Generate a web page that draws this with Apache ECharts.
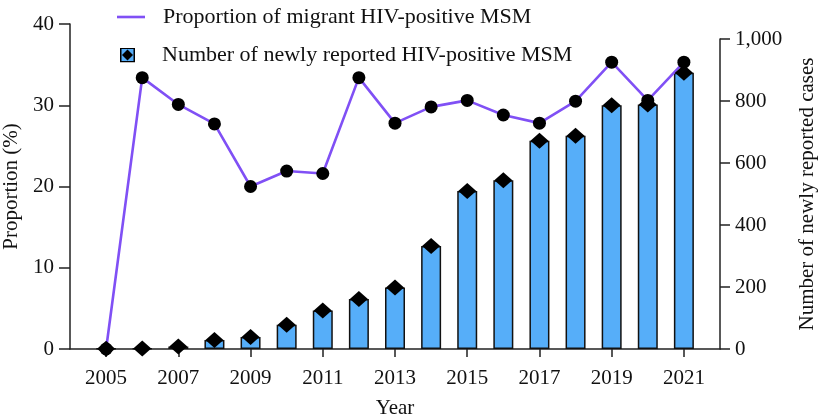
<!DOCTYPE html>
<html>
<head>
<meta charset="utf-8">
<script src="https://cdn.jsdelivr.net/npm/echarts@6/dist/echarts.min.js"></script>
<style>html,body{margin:0;padding:0;background:#fff;}#c{width:819px;height:419px;}</style>
</head>
<body>
<div id="c"></div>
<script>
const years = [2005,2006,2007,2008,2009,2010,2011,2012,2013,2014,2015,2016,2017,2018,2019,2020,2021];
const proportion = [0,33.4,30.1,27.7,20.0,21.9,21.6,33.4,27.8,29.8,30.6,28.8,27.8,30.5,35.3,30.6,35.3];
const newCases = [1,2,8,29,39,78,124,161,198,332,510,544,672,688,786,789,891];
const yearTicks = [2005,2007,2009,2011,2013,2015,2017,2019,2021];
const lineName = 'Proportion of migrant HIV-positive MSM';
const barName = 'Number of newly reported HIV-positive MSM';

const FONT = 'Liberation Serif';
const PURPLE = '#8050F5';
const BLUE = '#56AEF9';
const svgIcon = '<svg xmlns="http://www.w3.org/2000/svg" width="30" height="30" viewBox="0 0 30 30"><rect x="1.5" y="1.5" width="27" height="27" fill="' + BLUE + '" stroke="#000" stroke-width="3"/><polygon points="15,4 26,15 15,26 4,15" fill="#000"/></svg>';
const barIcon = 'image://data:image/svg+xml;charset=utf-8,' + encodeURIComponent(svgIcon);

const lineData = years.map((y, i) => [y, proportion[i]]);
const barData = years.map((y, i) => [y, newCases[i]]);

const axisLineStyle = { color: '#222', width: 1.5 };
const chart = echarts.init(document.getElementById('c'), null, { renderer: 'canvas' });
chart.setOption({
  animation: false,
  backgroundColor: '#fff',
  textStyle: { fontFamily: FONT },
  legend: [
    { data: [{ name: lineName, icon: 'path://M0,0h30v2.8h-30z', itemStyle: { color: PURPLE, borderWidth: 0 } }],
      left: 112, top: 1, itemWidth: 28, itemHeight: 14, selectedMode: false,
      textStyle: { fontFamily: FONT, fontSize: 22, color: '#111', padding: [0, 0, 0, 13] } },
    { data: [{ name: barName, icon: barIcon }],
      left: 115, top: 39, itemWidth: 15, itemHeight: 15, selectedMode: false,
      textStyle: { fontFamily: FONT, fontSize: 22, color: '#111', padding: [0, 0, 0, 22] } }
  ],
  grid: [
    { left: 70, right: 99, top: 24, bottom: 70, outerBoundsMode: 'none', containLabel: false },
    { left: 70, right: 99, top: 39, bottom: 70, outerBoundsMode: 'none', containLabel: false }
  ],
  xAxis: [
    { type: 'value', gridIndex: 0, min: 2004, max: 2022,
      name: 'Year', nameLocation: 'middle', nameGap: 49,
      nameTextStyle: { fontFamily: FONT, fontSize: 21, color: '#111' },
      axisLine: { show: true, lineStyle: axisLineStyle },
      axisTick: { show: true, length: 8, customValues: yearTicks, lineStyle: axisLineStyle },
      axisLabel: { customValues: yearTicks, formatter: v => String(v), fontFamily: FONT, fontSize: 21, color: '#111', margin: 19 },
      splitLine: { show: false } },
    { type: 'value', gridIndex: 1, min: 2004, max: 2022, show: false, splitLine: { show: false } }
  ],
  yAxis: [
    { type: 'value', gridIndex: 0, min: 0, max: 40, interval: 10, position: 'left',
      name: 'Proportion (%)', nameLocation: 'middle', nameGap: 46,
      nameTextStyle: { fontFamily: FONT, fontSize: 21, color: '#111' },
      axisLine: { show: true, lineStyle: axisLineStyle },
      axisTick: { show: true, length: 11, lineStyle: axisLineStyle },
      axisLabel: { fontFamily: FONT, fontSize: 21, color: '#111', margin: 16 },
      splitLine: { show: false } },
    { type: 'value', gridIndex: 1, min: 0, max: 1000, interval: 200, position: 'right',
      name: 'Number of newly reported cases', nameLocation: 'middle', nameGap: 77,
      nameTextStyle: { fontFamily: FONT, fontSize: 21, color: '#111' },
      axisLine: { show: true, lineStyle: axisLineStyle },
      axisTick: { show: true, length: 10, lineStyle: axisLineStyle },
      axisLabel: { fontFamily: FONT, fontSize: 21, color: '#111', margin: 15 },
      splitLine: { show: false } }
  ],
  series: [
    { name: barName, type: 'bar', xAxisIndex: 1, yAxisIndex: 1, data: barData,
      barWidth: 20, z: 1,
      itemStyle: { color: BLUE, borderColor: '#111', borderWidth: 1.5 } },
    { name: lineName, type: 'line', xAxisIndex: 0, yAxisIndex: 0, data: lineData,
      symbol: 'circle', symbolSize: 13, z: 3,
      lineStyle: { color: PURPLE, width: 2.6 },
      itemStyle: { color: '#000', opacity: 1 } },
    { name: barName, type: 'scatter', xAxisIndex: 1, yAxisIndex: 1, data: barData,
      symbol: 'diamond', symbolSize: [18, 16], z: 4,
      itemStyle: { color: '#000', opacity: 1 } }
  ]
});
</script>
</body>
</html>
